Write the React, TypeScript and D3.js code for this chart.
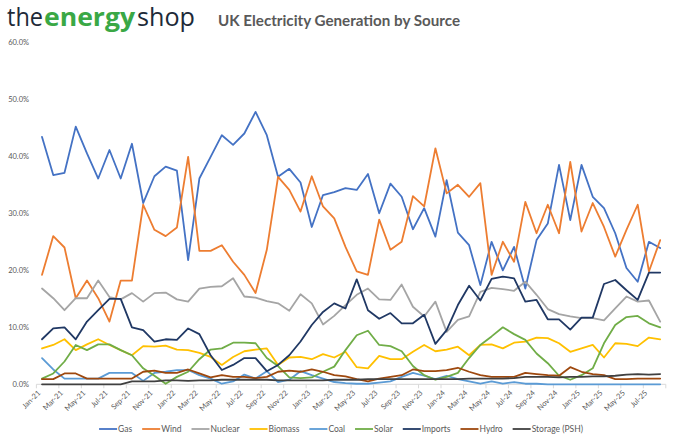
import React, { useEffect, useRef } from "react";
import * as d3 from "d3";

const months = [
  "Jan-21","Feb-21","Mar-21","Apr-21","May-21","Jun-21","Jul-21","Aug-21","Sep-21","Oct-21","Nov-21","Dec-21",
  "Jan-22","Feb-22","Mar-22","Apr-22","May-22","Jun-22","Jul-22","Aug-22","Sep-22","Oct-22","Nov-22","Dec-22",
  "Jan-23","Feb-23","Mar-23","Apr-23","May-23","Jun-23","Jul-23","Aug-23","Sep-23","Oct-23","Nov-23","Dec-23",
  "Jan-24","Feb-24","Mar-24","Apr-24","May-24","Jun-24","Jul-24","Aug-24","Sep-24","Oct-24","Nov-24","Dec-24",
  "Jan-25","Feb-25","Mar-25","Apr-25","May-25","Jun-25","Jul-25","Aug-25"
];

const gas = [
  43.4,36.7,37.1,45.2,40.5,36.1,41.1,36.1,42.2,31.8,36.5,38.2,
  37.5,21.8,36.1,39.9,43.7,42.0,44.0,47.8,43.7,36.4,37.8,35.4,
  27.6,33.2,33.7,34.4,34.1,36.9,30.0,35.2,32.9,27.2,30.9,25.9,
  35.8,26.6,24.4,17.4,25.0,20.0,24.1,16.8,25.3,28.2,38.5,28.8,
  38.5,32.9,30.9,26.5,20.4,18.0,25.0,23.9
];
const wind = [
  19.2,26.0,24.0,15.1,18.2,15.1,11.0,18.2,18.2,31.5,27.1,26.0,
  27.5,39.9,23.4,23.4,24.4,21.5,19.2,16.0,23.6,36.4,34.1,30.3,
  36.5,31.2,29.1,24.1,19.8,19.2,28.9,23.6,25.0,33.0,31.2,41.4,
  33.5,35.0,32.9,35.3,19.2,25.0,21.5,32.0,26.5,31.5,26.5,39.0,
  26.8,31.8,27.6,22.4,27.1,31.5,19.8,25.3
];
const nuclear = [
  16.8,15.1,13.0,15.1,15.1,18.2,15.3,14.9,16.0,14.5,16.0,16.1,
  14.9,14.5,16.8,17.1,17.2,18.6,15.4,15.2,14.6,14.2,12.9,15.8,
  14.2,10.5,12.0,13.9,15.7,16.8,14.9,14.8,17.5,13.6,11.9,14.5,
  9.2,11.3,11.9,16.2,16.9,16.7,16.4,18.0,15.7,13.2,12.3,11.9,
  11.6,11.6,11.2,13.3,15.4,14.5,14.7,11.0
];
const biomass = [
  6.3,6.9,7.9,6.0,7.0,7.9,6.9,6.0,5.1,6.7,6.6,6.8,
  6.1,6.0,5.5,4.8,3.4,4.8,5.8,6.1,6.3,3.4,4.7,4.8,
  4.4,5.3,4.7,5.7,3.0,2.8,5.0,4.4,4.4,5.7,6.9,5.8,
  6.1,6.6,5.1,6.9,7.0,6.3,7.3,7.5,8.2,8.1,7.2,5.7,
  6.3,6.9,4.7,7.2,7.1,6.7,8.2,7.9
];
const coal = [
  4.6,2.6,1.0,1.0,1.0,1.0,2.0,2.0,2.0,0.6,2.0,2.2,
  2.5,2.5,1.6,1.0,0.1,0.5,1.7,1.0,2.3,0.4,0.8,2.3,
  1.6,1.0,0.4,0.2,0.1,0.1,0.3,0.5,1.3,2.0,1.5,0.9,
  1.5,0.9,0.5,0.1,0.5,0.1,0.4,0.1,0.1,0.0,0.0,0.0,
  0.0,0.0,0.0,0.0,0.0,0.0,0.0,0.0
];
const solar = [
  1.0,1.9,4.0,6.9,6.0,7.0,7.0,6.0,5.1,2.8,1.5,0.1,
  1.3,2.2,4.4,6.1,6.3,7.3,7.3,7.2,4.6,3.2,1.2,1.1,
  1.2,2.2,3.1,6.0,8.6,9.4,6.9,6.7,5.8,3.2,1.6,0.8,
  1.3,2.0,4.6,6.9,8.4,10.0,8.8,7.8,5.4,3.7,1.5,0.8,
  1.6,2.8,7.2,10.4,11.8,12.0,10.7,10.0
];
const imports = [
  7.9,9.8,10.0,7.9,11.0,13.0,15.0,15.0,10.0,9.5,7.5,7.9,
  7.8,9.8,8.8,5.1,2.5,3.4,4.6,4.6,2.3,3.4,5.1,7.5,
  10.4,12.7,14.2,13.3,18.4,13.0,11.5,12.5,10.7,10.7,12.2,7.1,
  9.5,13.9,17.3,14.7,18.5,18.9,18.6,14.5,14.8,11.4,11.4,9.6,
  11.7,11.7,17.6,18.3,16.5,14.8,19.6,19.6
];
const hydro = [
  0.9,0.9,1.9,1.9,1.0,1.0,1.0,1.0,1.0,2.2,2.4,2.0,
  2.0,2.6,1.9,1.2,1.6,1.3,1.3,1.1,1.3,2.2,2.4,2.2,
  2.6,2.2,1.6,1.4,0.9,0.5,1.0,1.3,1.6,2.6,2.3,2.3,
  2.5,2.9,2.2,1.6,1.3,1.3,1.3,2.0,1.8,1.6,1.5,3.0,
  2.2,1.8,1.6,0.9,0.9,1.0,1.0,1.0
];
const storage = [
  0.0,0.0,0.0,0.0,0.0,0.0,0.0,0.0,0.5,0.5,0.5,0.7,
  0.7,0.6,0.7,0.7,0.8,0.8,0.8,0.8,0.8,0.7,0.7,0.7,
  0.7,0.7,0.8,0.8,0.8,0.9,0.9,0.9,0.9,0.9,0.9,0.9,
  0.9,0.9,1.0,1.0,1.0,1.0,1.1,1.3,1.3,1.3,1.2,1.3,
  1.3,1.4,1.4,1.5,1.7,1.8,1.7,1.8
];

const seriesNames = ["Gas","Wind","Nuclear","Biomass","Coal","Solar","Imports","Hydro","Storage (PSH)"];
const seriesValues = [gas, wind, nuclear, biomass, coal, solar, imports, hydro, storage];
const seriesColors = ["#4472C4","#ED7D31","#A5A5A5","#FFC000","#5B9BD5","#70AD47","#203864","#9E480E","#404040"];
const yTicks = [0, 10, 20, 30, 40, 50, 60];

const FONT = "Lato, 'Open Sans', sans-serif";

export default function App() {
  const ref = useRef<SVGSVGElement>(null);

  useEffect(() => {
    document.body.style.margin = "0";
    const svg = d3.select(ref.current);
    svg.selectAll("*").remove();

    const n = months.length;
    const x = d3.scaleLinear().domain([-0.5, n - 0.5]).range([36.4, 665.8]);
    const y = d3.scaleLinear().domain([0, 60]).range([384.3, 42.3]);

    // Logo
    const logo = svg.append("g").attr("font-family", "'Open Sans', Lato, sans-serif");
    logo.append("text").attr("x", 7).attr("y", 26).attr("font-size", 25)
      .attr("fill", "#1d2a38").attr("textLength", 36).attr("lengthAdjust", "spacingAndGlyphs").text("the");
    logo.append("text").attr("x", 44).attr("y", 26).attr("font-size", 25).attr("font-weight", 700)
      .attr("fill", "#3aa845").attr("textLength", 91).attr("lengthAdjust", "spacingAndGlyphs").text("energy");
    logo.append("text").attr("x", 137).attr("y", 26).attr("font-size", 25)
      .attr("fill", "#1d2a38").attr("textLength", 58).attr("lengthAdjust", "spacingAndGlyphs").text("shop");

    // Title
    svg.append("text").attr("x", 218).attr("y", 26).attr("font-family", FONT)
      .attr("font-size", 16).attr("font-weight", 700).attr("fill", "#595959")
      .attr("textLength", 242).attr("lengthAdjust", "spacingAndGlyphs")
      .text("UK Electricity Generation by Source");

    // Y labels
    svg.append("g").selectAll("text").data(yTicks).join("text")
      .attr("x", 29).attr("y", d => y(d) + 3)
      .attr("text-anchor", "end").attr("font-family", FONT).attr("font-size", 7.5)
      .attr("fill", "#595959").text(d => d.toFixed(1) + "%");

    // X axis line
    svg.append("line").attr("x1", x(-0.5)).attr("x2", x(n - 0.5))
      .attr("y1", y(0)).attr("y2", y(0)).attr("stroke", "#D9D9D9").attr("stroke-width", 1);
    const tickIdx = d3.range(0, n + 1, 2);
    svg.append("g").selectAll("line").data(tickIdx).join("line")
      .attr("x1", d => x(d - 0.5)).attr("x2", d => x(d - 0.5))
      .attr("y1", y(0)).attr("y2", y(0) + 4).attr("stroke", "#D9D9D9");
    const labelIdx = d3.range(0, n, 2);
    svg.append("g").selectAll("text").data(labelIdx).join("text")
      .attr("transform", d => `translate(${x(d) - 1},${y(0) + 9}) rotate(-45)`)
      .attr("text-anchor", "end").attr("font-family", FONT).attr("font-size", 7.5)
      .attr("fill", "#595959").text(d => months[d]);

    // Lines
    const line = d3.line<number>().x((_, i) => x(i)).y(d => y(d));
    const lg = svg.append("g").attr("fill", "none").attr("stroke-linejoin", "round").attr("stroke-linecap", "round");
    seriesValues.forEach((vals, k) => {
      lg.append("path").attr("d", line(vals) as string)
        .attr("stroke", seriesColors[k]).attr("stroke-width", 1.8);
    });

    // Legend
    const leg = svg.append("g").attr("font-family", FONT).attr("font-size", 8.5).attr("fill", "#595959");
    const items = seriesNames.map((name, k) => {
      const g = leg.append("g");
      g.append("line").attr("x1", 0).attr("x2", 18).attr("y1", 0).attr("y2", 0)
        .attr("stroke", seriesColors[k]).attr("stroke-width", 1.8);
      const t = g.append("text").attr("x", 19).attr("y", 3).text(name);
      const w = (t.node() as SVGTextElement).getComputedTextLength();
      return { g, w: 19 + w };
    });
    const gap = 10;
    const total = d3.sum(items, d => d.w) + gap * (items.length - 1);
    let cur = 341 - total / 2;
    items.forEach(it => {
      it.g.attr("transform", `translate(${cur},429)`);
      cur += it.w + gap;
    });
  }, []);

  return <svg ref={ref} width={680} height={447} style={{ display: "block", background: "#fff" }} />;
}
